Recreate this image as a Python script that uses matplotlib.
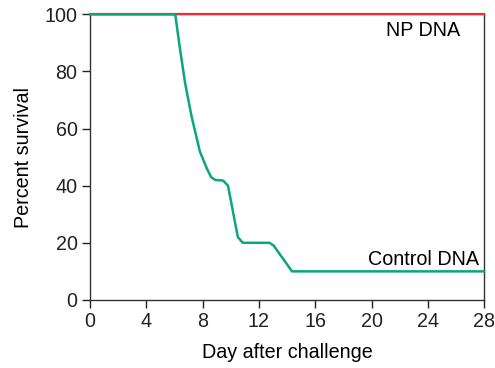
import matplotlib
matplotlib.use("Agg")
import matplotlib.pyplot as plt

plt.rcParams['font.family'] = ['Liberation Sans', 'DejaVu Sans']

np_days = [0, 28]
np_survival = [100, 100]

control_days = [0, 6.05, 6.4, 6.75, 7.2, 7.8, 8.3, 8.6, 8.9, 9.45, 9.8, 10.5, 10.85, 12.75, 13.05, 14.35, 28]
control_survival = [100, 100, 87.5, 76, 64.5, 52, 46, 43, 42, 41.8, 40, 22, 20, 20, 19, 10, 10]

x_ticks = [0, 4, 8, 12, 16, 20, 24, 28]
y_ticks = [0, 20, 40, 60, 80, 100]

fs = 14.2

fig = plt.figure(figsize=(4.95, 3.68), dpi=100)
ax = fig.add_axes([0.182, 0.185, 0.796, 0.776])

ax.plot(np_days, np_survival, color='#E8303A', lw=1.6, clip_on=False, zorder=3)
ax.plot(control_days, control_survival, color='#0BA57E', lw=1.8, clip_on=False, zorder=4)

ax.set_xlim(0, 28)
ax.set_ylim(0, 100)
ax.set_xticks(x_ticks)
ax.set_yticks(y_ticks)
ax.tick_params(direction='out', length=6, width=1, labelsize=fs, colors='#222222', pad=3)
for s in ax.spines.values():
    s.set_linewidth(1)
    s.set_color('#333333')

ax.set_xlabel('Day after challenge', fontsize=fs, labelpad=8)
ax.set_ylabel('Percent survival', fontsize=fs, labelpad=8)

ax.text(26.3, 94.3, 'NP DNA', ha='right', va='center', fontsize=fs)
ax.text(27.65, 14.3, 'Control DNA', ha='right', va='center', fontsize=fs)

fig.savefig('out.png', dpi=100)
